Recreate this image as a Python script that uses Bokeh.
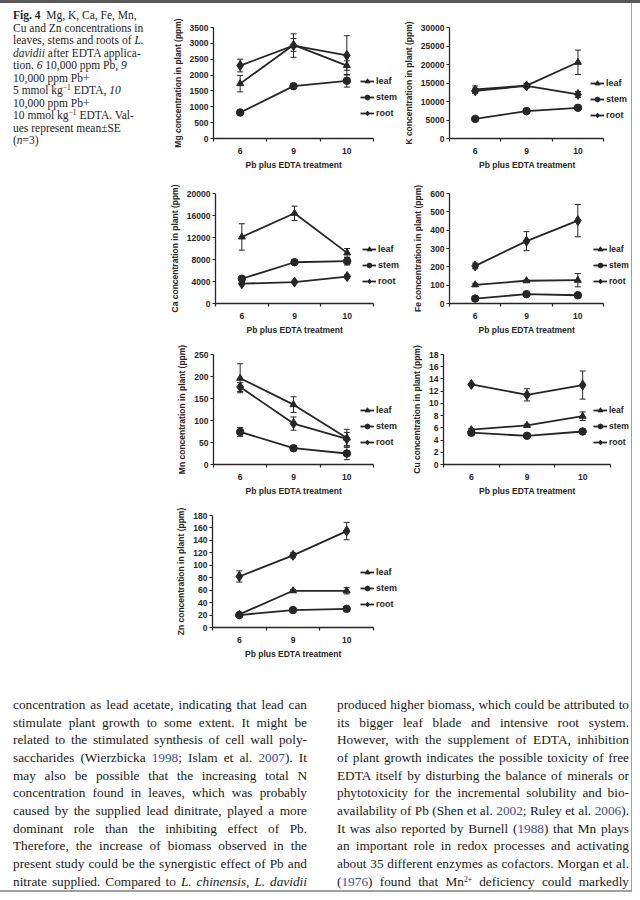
from bokeh.plotting import figure
from bokeh.models import (ColumnDataSource, Whisker, TeeHead, Legend, LegendItem,
                          FixedTicker, Range1d, Div, Spacer, Title)
from bokeh.layouts import row, column
from bokeh.embed import file_html
from bokeh.resources import INLINE

# ---------------- data ----------------
categories = ["6", "9", "10"]
series_names = ["leaf", "stem", "root"]
x_title = "Pb plus EDTA treatment"

mg_leaf = [1730, 2950, 2300]
mg_leaf_se = [260, 200, 150]
mg_stem = [820, 1650, 1820]
mg_stem_se = [40, 40, 200]
mg_root = [2300, 2930, 2620]
mg_root_se = [200, 370, 620]

k_leaf = [13300, 14300, 20600]
k_leaf_se = [900, 500, 3300]
k_stem = [5300, 7400, 8300]
k_stem_se = [300, 400, 500]
k_root = [12900, 14200, 11900]
k_root_se = [700, 500, 800]

ca_leaf = [12100, 16400, 9200]
ca_leaf_se = [2400, 1300, 800]
ca_stem = [4500, 7500, 7700]
ca_stem_se = [300, 400, 700]
ca_root = [3600, 3900, 4900]
ca_root_se = [200, 200, 300]

fe_leaf = [102, 124, 127]
fe_leaf_se = [8, 5, 36]
fe_stem = [27, 51, 45]
fe_stem_se = [4, 6, 8]
fe_root = [205, 340, 452]
fe_root_se = [15, 52, 88]

mn_leaf = [196, 136, 60]
mn_leaf_se = [33, 18, 20]
mn_stem = [74, 37, 25]
mn_stem_se = [10, 6, 14]
mn_root = [176, 93, 58]
mn_root_se = [10, 15, 15]

cu_leaf = [5.7, 6.4, 7.9]
cu_leaf_se = [0.2, 0.2, 0.7]
cu_stem = [5.2, 4.7, 5.4]
cu_stem_se = [0.2, 0.2, 0.2]
cu_root = [13.1, 11.4, 13.0]
cu_root_se = [0.2, 1.0, 2.3]

zn_leaf = [21, 59, 59]
zn_leaf_se = [2, 2, 5]
zn_stem = [20, 28, 30]
zn_stem_se = [2, 2, 2]
zn_root = [82, 116, 155]
zn_root_se = [9, 4, 14]

# ---------------- styling ----------------
FONT = "Liberation Sans"
SERIF = "Liberation Serif"
INK = "#262626"
RULE = "#a0a0a0"
MARKERS = {"leaf": ("triangle", 7), "stem": ("circle", 7.5), "root": ("diamond", 10)}
XLABEL_W = 96  # approx. rendered width of the x title


def panel(ylabel, ymax, ystep, data, w, h, bl, br_axis, bt, bb, leg_xy, leg_font="9px"):
    n = len(categories)
    xs = [i + 0.5 for i in range(n)]
    frame_w = w - bl
    axis_w = w - bl - br_axis
    p = figure(width=w, height=h, x_range=Range1d(0, n * frame_w / axis_w),
               y_range=Range1d(0, ymax), output_backend="svg",
               toolbar_location=None, min_border_left=bl, min_border_right=0,
               min_border_top=bt, min_border_bottom=bb, margin=0)
    p.outline_line_color = None
    p.xgrid.visible = False
    p.ygrid.visible = False
    p.background_fill_color = "white"
    p.border_fill_color = "white"

    xa = p.xaxis[0]
    xa.bounds = (0, n)
    xa.ticker = FixedTicker(ticks=xs, minor_ticks=list(range(n + 1)))
    xa.major_label_overrides = {x: c for x, c in zip(xs, categories)}
    xa.major_tick_out = 0
    xa.major_tick_in = 0
    xa.minor_tick_out = 3
    xa.minor_tick_in = 0
    xa.major_label_standoff = 6

    ya = p.yaxis[0]
    ya.ticker = FixedTicker(ticks=[ystep * i for i in range(int(round(ymax / ystep)) + 1)],
                            minor_ticks=[])
    ya.major_tick_out = 3
    ya.major_tick_in = 0
    ya.minor_tick_out = 0
    ya.minor_tick_in = 0
    ya.major_label_standoff = 2
    ya.axis_label = ylabel
    ya.axis_label_standoff = 4

    for ax in (xa, ya):
        ax.axis_line_color = INK
        ax.axis_line_width = 1.3
        ax.major_tick_line_color = INK
        ax.minor_tick_line_color = INK
        ax.major_tick_line_width = 1.2
        ax.minor_tick_line_width = 1.2
        ax.major_label_text_font = FONT
        ax.major_label_text_font_style = "bold"
        ax.major_label_text_font_size = "8.5px"
        ax.major_label_text_color = INK
        ax.axis_label_text_font = FONT
        ax.axis_label_text_font_style = "bold"
        ax.axis_label_text_font_size = "8.5px"
        ax.axis_label_text_color = INK

    # x title centred under the drawn axis (not the wider frame)
    p.add_layout(Title(text=x_title, align="left", offset=axis_w / 2 - XLABEL_W / 2,
                       standoff=2, text_font=FONT, text_font_style="bold",
                       text_font_size="8.5px", text_color=INK), "below")

    items = []
    for name in series_names:
        vals, se = data[name]
        src = ColumnDataSource(dict(
            x=xs, y=vals,
            lo=[v - s for v, s in zip(vals, se)],
            hi=[v + s for v, s in zip(vals, se)]))
        wk = Whisker(source=src, base="x", upper="hi", lower="lo",
                     line_color=INK, line_width=1,
                     upper_head=TeeHead(size=6, line_color=INK, line_width=1),
                     lower_head=TeeHead(size=6, line_color=INK, line_width=1))
        p.add_layout(wk)
        ln = p.line("x", "y", source=src, line_color=INK, line_width=1.8)
        mk, sz = MARKERS[name]
        sc = p.scatter("x", "y", source=src, marker=mk, size=sz,
                       fill_color=INK, line_color=INK)
        items.append(LegendItem(label=name, renderers=[ln, sc]))

    leg = Legend(items=items, location=leg_xy, orientation="vertical",
                 glyph_width=14, glyph_height=12, label_height=12,
                 label_standoff=2, spacing=4, padding=0, margin=0,
                 border_line_alpha=0, background_fill_alpha=0,
                 label_text_font=FONT, label_text_font_style="bold",
                 label_text_font_size=leg_font, label_text_color=INK)
    p.add_layout(leg)
    return p


def d(leaf, leaf_se, stem, stem_se, root, root_se):
    return {"leaf": (leaf, leaf_se), "stem": (stem, stem_se), "root": (root, root_se)}


LW, MW, RW = 165, 235, 231
H1, H2, H3, H4, H5 = 169, 170, 158, 182, 208

p_mg = panel("Mg concentration in plant (ppm)", 3500, 500,
             d(mg_leaf, mg_leaf_se, mg_stem, mg_stem_se, mg_root, mg_root_se),
             MW, H1, 48, 27, 24, 33, (147, 19))
p_k = panel("K concentration in plant (ppm)", 30000, 5000,
            d(k_leaf, k_leaf_se, k_stem, k_stem_se, k_root, k_root_se),
            RW, H1, 48, 28, 23, 34, (141, 17))
p_ca = panel("Ca concentration in plant (ppm)", 20000, 4000,
             d(ca_leaf, ca_leaf_se, ca_stem, ca_stem_se, ca_root, ca_root_se),
             MW, H2, 50, 27, 16, 39, (147, 16))
p_fe = panel("Fe concentration in plant (ppm)", 600, 100,
             d(fe_leaf, fe_leaf_se, fe_stem, fe_stem_se, fe_root, fe_root_se),
             RW, H2, 49, 28, 21, 39, (144, 16), "8.5px")
p_mn = panel("Mn concentration in plant (ppm)", 250, 50,
             d(mn_leaf, mn_leaf_se, mn_stem, mn_stem_se, mn_root, mn_root_se),
             MW, H3, 48, 27, 12, 35, (147, 16))
p_cu = panel("Cu concentration in plant (ppm)", 18, 2,
             d(cu_leaf, cu_leaf_se, cu_stem, cu_stem_se, cu_root, cu_root_se),
             RW, H3, 43, 21, 11, 36, (150, 16), "8.5px")
p_zn = panel("Zn concentration in plant (ppm)", 180, 20,
             d(zn_leaf, zn_leaf_se, zn_stem, zn_stem_se, zn_root, zn_root_se),
             MW, H4, 47, 27, 15, 55, (148, 17))

# ---------------- texts ----------------
SUP = '<sup style="font-size:7.5px;line-height:0;vertical-align:4px">{}</sup>'
caption_lines = [
    "<b>Fig. 4</b>&nbsp; Mg, K, Ca, Fe, Mn,",
    "Cu and Zn concentrations in",
    "leaves, stems and roots of <i>L.</i>",
    "<i>davidii</i> after EDTA applica-",
    "tion. <i>6</i> 10,000 ppm Pb, <i>9</i>",
    "10,000 ppm Pb+",
    "5 mmol kg" + SUP.format("&minus;1") + " EDTA, <i>10</i>",
    "10,000 ppm Pb+",
    "10 mmol kg" + SUP.format("&minus;1") + " EDTA. Val-",
    "ues represent mean&plusmn;SE",
    "(<i>n</i>=3)",
]
caption_html = ('<div style="margin-left:13px;padding-top:6px;font-family:\'%s\';'
                'font-size:11.5px;line-height:12.5px;color:#1e1e1e">' % SERIF
                + "".join('<div style="white-space:nowrap">%s</div>' % t for t in caption_lines)
                + "</div>")

BLUE = '<span style="color:#3a4c9c">{}</span>'
body_left = [
    "concentration as lead acetate, indicating that lead can",
    "stimulate plant growth to some extent. It might be",
    "related to the stimulated synthesis of cell wall poly-",
    "saccharides (Wierzbicka " + BLUE.format("1998") + "; Islam et al. " + BLUE.format("2007") + "). It",
    "may also be possible that the increasing total N",
    "concentration found in leaves, which was probably",
    "caused by the supplied lead dinitrate, played a more",
    "dominant role than the inhibiting effect of Pb.",
    "Therefore, the increase of biomass observed in the",
    "present study could be the synergistic effect of Pb and",
    "nitrate supplied. Compared to <i>L. chinensis</i>, <i>L. davidii</i>",
]
body_right = [
    "produced higher biomass, which could be attributed to",
    "its bigger leaf blade and intensive root system.",
    "However, with the supplement of EDTA, inhibition",
    "of plant growth indicates the possible toxicity of free",
    "EDTA itself by disturbing the balance of minerals or",
    "phytotoxicity for the incremental solubility and bio-",
    "availability of Pb (Shen et al. " + BLUE.format("2002") + "; Ruley et al. " + BLUE.format("2006") + ").",
    "It was also reported by Burnell (" + BLUE.format("1988") + ") that Mn plays",
    "an important role in redox processes and activating",
    "about 35 different enzymes as cofactors. Morgan et al.",
    "(" + BLUE.format("1976") + ") found that Mn" + SUP.format("2+") + " deficiency could markedly",
]


def body_html(lines, left, width):
    inner = "".join('<div style="text-align:justify;text-align-last:justify;'
                    'white-space:nowrap">%s</div>' % t for t in lines)
    return ('<div style="margin-left:%dpx;width:%dpx;padding-top:14px;'
            'font-family:\'%s\';font-size:13.3px;line-height:17.65px;color:#1a1a1a">'
            % (left, width, SERIF) + inner + "</div>")


def vrule(h):
    return Div(text="", width=1, height=h, margin=0, styles={"background-color": RULE})


top_bar = Div(text="", width=640, height=3, margin=0, styles={"background-color": "#585858"})
caption = Div(text=caption_html, width=LW, height=H1, margin=0)
body1 = Div(text=body_html(body_left, 13, 294), width=322, height=H5, margin=0)
body2 = Div(text=body_html(body_right, 15, 292), width=309, height=H5, margin=0)
bottom_rule = Div(text="", width=632, height=2, margin=0, styles={"background-color": RULE})

layout = column(
    top_bar,
    row(caption, p_mg, p_k, vrule(H1), spacing=0),
    row(Spacer(width=LW, height=H2, margin=0), p_ca, p_fe, vrule(H2), spacing=0),
    row(Spacer(width=LW, height=H3, margin=0), p_mn, p_cu, vrule(H3), spacing=0),
    row(Spacer(width=LW, height=H4, margin=0), p_zn, Spacer(width=RW, height=H4, margin=0),
        vrule(H4), spacing=0),
    row(body1, body2, vrule(H5), spacing=0),
    bottom_rule,
    spacing=0,
)

open("out.html", "w").write(file_html(layout, INLINE, title="Fig. 4"))
